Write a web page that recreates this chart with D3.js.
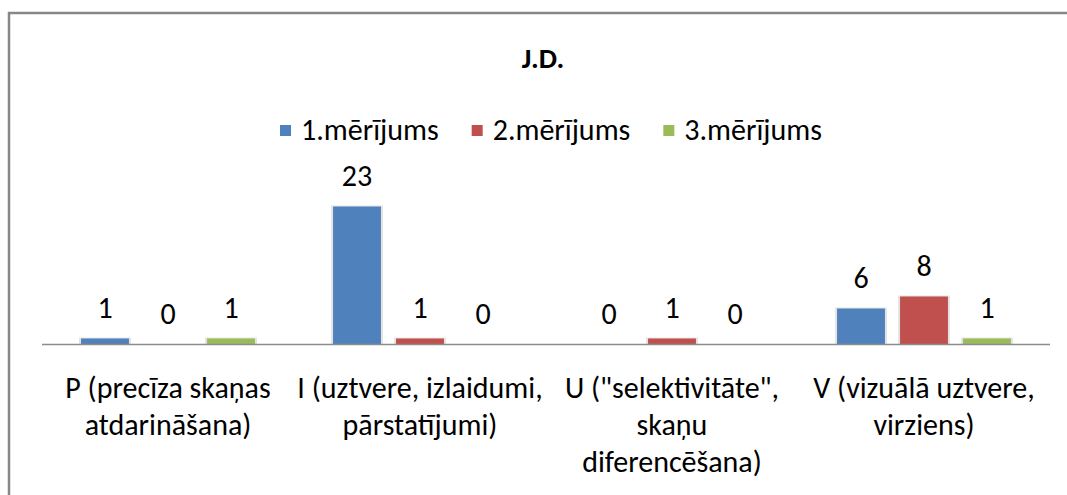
<!DOCTYPE html>
<html>
<head>
<meta charset="utf-8">
<script src="https://cdn.jsdelivr.net/npm/d3@7"></script>
<style>
  body { margin: 0; background: #fff; }
  svg text { font-family: Calibri, Carlito, Lato, 'Liberation Sans', sans-serif; fill: #000; }
</style>
</head>
<body>
<div id="chart"></div>
<script>
var title = 'J.D.';
var categories = ['P', 'I', 'U', 'V'];
var categoryLines = [
  ['P (precīza skaņas', 'atdarināšana)'],
  ['I (uztvere, izlaidumi,', 'pārstatījumi)'],
  ['U ("selektivitāte",', 'skaņu', 'diferencēšana)'],
  ['V (vizuālā uztvere,', 'virziens)']
];
var seriesNames = ['1.mērījums', '2.mērījums', '3.mērījums'];
var series1 = [1, 23, 0, 6];
var series2 = [0, 1, 1, 8];
var series3 = [1, 0, 0, 1];
var seriesColors = ['#4F81BD', '#C0504D', '#9BBB59'];

(function() {
  'use strict';

  var svgWidth = 1067;
  var svgHeight = 495;
  var fontSize = '30px';
  var values = [series1, series2, series3];

  var svg = d3.select('#chart').append('svg')
      .attr('width', svgWidth)
      .attr('height', svgHeight);

  // chart frame, runs off the right and bottom edge
  svg.append('rect')
      .attr('x', 9)
      .attr('y', 13)
      .attr('width', 1100)
      .attr('height', 540)
      .attr('fill', '#fff')
      .attr('stroke', '#878787')
      .attr('stroke-width', 2.5);

  svg.append('text')
      .attr('x', 543)
      .attr('y', 68)
      .attr('text-anchor', 'middle')
      .style('font-size', '29px')
      .style('font-weight', 'bold')
      .text(title);

  var x0 = d3.scaleBand().domain(categories).range([42, 1050]);
  var x1 = d3.scaleBand().domain(d3.range(seriesNames.length))
      .range([0, x0.bandwidth()])
      .paddingInner(0.24)
      .paddingOuter(0.62);
  var y = d3.scaleLinear().domain([0, 25]).range([344.5, 194.5]);

  var groups = svg.selectAll('g.cat')
      .data(categories)
      .enter()
      .append('g')
      .attr('class', 'cat')
      .attr('transform', function(d) { return 'translate(' + x0(d) + ',0)'; });

  var bars = groups.selectAll('g.bar')
      .data(function(d, i) {
        return values.map(function(s, j) { return { s: j, v: s[i] }; });
      })
      .enter()
      .append('g')
      .attr('class', 'bar');

  // soft shadow round the bars
  bars.append('rect')
      .attr('x', function(d) { return x1(d.s) - 2; })
      .attr('y', function(d) { return y(d.v) - 1; })
      .attr('width', x1.bandwidth() + 4)
      .attr('height', function(d) { return d.v ? y(0) - y(d.v) + 1 : 0; })
      .attr('fill', '#e3e3e3');

  bars.append('rect')
      .attr('x', function(d) { return x1(d.s); })
      .attr('y', function(d) { return y(d.v); })
      .attr('width', x1.bandwidth())
      .attr('height', function(d) { return y(0) - y(d.v); })
      .attr('fill', function(d) { return seriesColors[d.s]; });

  bars.append('text')
      .attr('x', function(d) { return x1(d.s) + x1.bandwidth() / 2; })
      .attr('y', function(d) { return y(d.v) - 21; })
      .attr('text-anchor', 'middle')
      .style('font-size', fontSize)
      .text(function(d) { return d.v; });

  // category axis
  svg.append('line')
      .attr('x1', 42)
      .attr('x2', 1050)
      .attr('y1', y(0))
      .attr('y2', y(0))
      .attr('stroke', '#8c8c8c')
      .attr('stroke-width', 1.5);

  groups.append('text')
      .attr('x', x0.bandwidth() / 2)
      .attr('y', 398)
      .attr('text-anchor', 'middle')
      .style('font-size', fontSize)
      .selectAll('tspan')
      .data(function(d, i) { return categoryLines[i]; })
      .enter()
      .append('tspan')
      .attr('x', x0.bandwidth() / 2)
      .attr('dy', function(d, i) { return i ? 37 : 0; })
      .text(function(d) { return d; });

  // legend
  var legend = svg.append('g');
  var item = legend.selectAll('g')
      .data(seriesNames)
      .enter()
      .append('g');

  item.append('rect')
      .attr('width', 11)
      .attr('height', 11)
      .attr('y', 125)
      .attr('fill', function(d, i) { return seriesColors[i]; });

  item.append('text')
      .attr('x', 21)
      .attr('y', 140)
      .style('font-size', fontSize)
      .text(function(d) { return d; });

  var pos = 0;
  item.each(function() {
    var w = d3.select(this).select('text').node().getComputedTextLength();
    d3.select(this).attr('transform', 'translate(' + pos + ',0)');
    pos += 21 + w + 33;
  });
  legend.attr('transform', 'translate(' + (551 - (pos - 33) / 2) + ',0)');
}).call();
</script>
</body>
</html>
